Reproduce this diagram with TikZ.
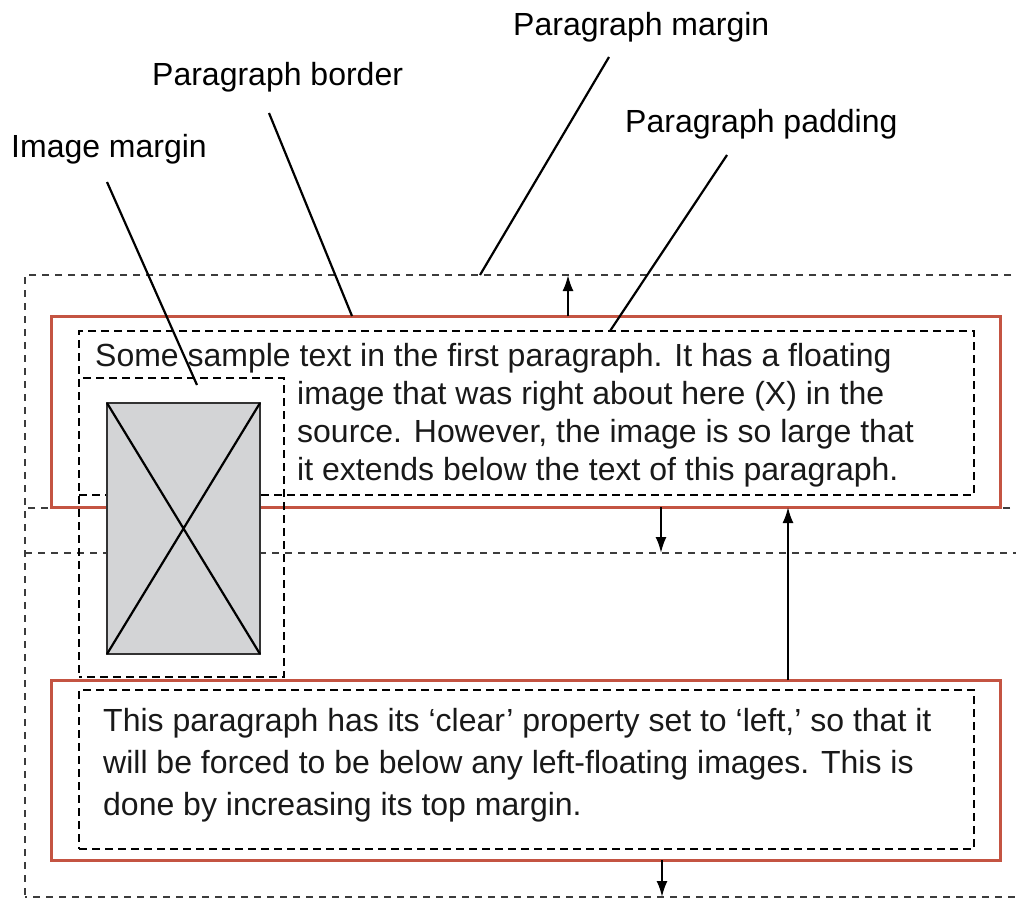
\documentclass[tikz,border=0pt]{standalone}
\usepackage{fontspec}
\setmainfont{Liberation Sans}
\usetikzlibrary{arrows.meta}
\definecolor{bordercol}{RGB}{196,84,66}
\definecolor{imgfill}{RGB}{211,212,214}
\definecolor{marginline}{RGB}{60,60,60}
\begin{document}
\begin{tikzpicture}[x=1pt,y=-1pt,
  box/.style={draw,inner sep=0pt,outer sep=0pt,anchor=north west},
  marginbox/.style={box,draw=marginline,line width=2.4pt,dash pattern=on 7pt off 6pt},
  paddingbox/.style={box,draw=black,line width=2.2pt,dash pattern=on 8pt off 5pt},
  borderbox/.style={box,draw=bordercol,line width=3pt},
  imagebox/.style={box,draw=black!80,fill=imgfill,line width=2.8pt},
  label/.style={inner sep=0pt,anchor=base west,font=\fontsize{32}{38}\selectfont},
  body/.style={label,text=black!90},
  leader/.style={line width=2.2pt},
  marginarrow/.style={line width=2.2pt,arrows={-Latex[length=16pt,width=11pt]}}]
\useasboundingbox (0,0) rectangle (1016,900);
\clip (0,0) rectangle (1016,900);
\fill[white] (0,0) rectangle (1016,900);

% margins of the two paragraphs (running past the right edge)
\node[marginbox,dash phase=5pt,minimum width=1030pt,minimum height=389pt] (margin2) at (25,508) {};
\node[marginbox,minimum width=1030pt,minimum height=278pt] (margin1) at (25,275) {};

% borders
\node[borderbox,minimum width=949pt,minimum height=191pt] (border1) at (51,316) {};
\node[borderbox,minimum width=949pt,minimum height=180pt] (border2) at (51,680) {};

% padding
\node[paddingbox,minimum width=895pt,minimum height=164pt] (padding1) at (79,331) {};
\node[paddingbox,minimum width=895pt,minimum height=159pt] (padding2) at (79,690) {};

% floating image and its margin
\node[paddingbox,dash phase=5pt,minimum width=205pt,minimum height=299pt] (imgmargin) at (79,378) {};
\node[imagebox,minimum width=153pt,minimum height=251pt] (img) at (107,403) {};
\draw[line width=2.2pt] (img.north west) -- (img.south east)
                        (img.north east) -- (img.south west);

% paragraph text
\node[body] (p1a) at (95,366)  {Some sample text in the first paragraph. It has a floating};
\node[body] (p1b) at (297,404) {image that was right about here (X) in the};
\node[body] (p1c) at (297,442) {source. However, the image is so large that};
\node[body] (p1d) at (297,480) {it extends below the text of this paragraph.};

\node[body] (p2a) at (103,731) {This paragraph has its ‘clear’ property set to ‘left,’ so that it};
\node[body] (p2b) at (103,773) {will be forced to be below any left-floating images. This is};
\node[body] (p2c) at (103,815) {done by increasing its top margin.};

% labels
\node[label] (lblmargin)  at (513,35)  {Paragraph margin};
\node[label] (lblborder)  at (152,85)  {Paragraph border};
\node[label] (lblpadding) at (625,132) {Paragraph padding};
\node[label] (lblimage)   at (11,157)  {Image margin};

% leader lines
\coordinate (imgA) at (107,182);  \coordinate (imgB) at (197,385);
\coordinate (brdA) at (269,113);  \coordinate (brdB) at ([xshift=301pt]border1.north west);
\coordinate (mrgA) at (609,57);   \coordinate (mrgB) at ([xshift=455pt]margin1.north west);
\coordinate (padA) at (727,155);  \coordinate (padB) at ([xshift=531pt]padding1.north west);
\draw[leader] (imgA) -- (imgB);
\draw[leader] (brdA) -- (brdB);
\draw[leader] (mrgA) -- (mrgB);
\draw[leader] (padA) -- (padB);

% margin arrows
\coordinate (up1) at ([xshift=517pt]border1.north west);
\draw[marginarrow] (up1) -- (up1 |- margin1.north);
\coordinate (dn1) at ([xshift=610pt]border1.south west);
\draw[marginarrow] (dn1) -- (dn1 |- margin1.south);
\coordinate (up2) at ([xshift=737pt]border2.north west);
\draw[marginarrow] (up2) -- (up2 |- border1.south);
\coordinate (dn2) at ([xshift=611pt]border2.south west);
\draw[marginarrow] (dn2) -- (dn2 |- margin2.south);
\end{tikzpicture}
\end{document}
